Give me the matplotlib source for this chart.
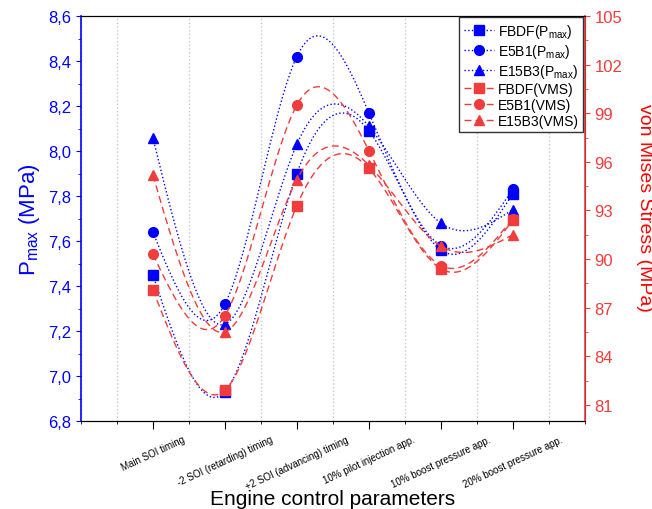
import numpy as np
import matplotlib.pyplot as plt
from matplotlib.ticker import MultipleLocator, FuncFormatter

plt.rcParams['font.family'] = ['Liberation Sans', 'DejaVu Sans']
plt.rcParams['mathtext.fontset'] = 'custom'
plt.rcParams['mathtext.rm'] = 'Liberation Sans'

categories = ["Main SOI timing", "-2 SOI (retarding) timing", "+2 SOI (advancing) timing",
              "10% pilot injection app.", "10% boost pressure app.", "20% boost pressure app."]

# Pmax (MPa)
fbdf_pmax = [7.45, 6.93, 7.90, 8.09, 7.56, 7.81]
e5b1_pmax = [7.64, 7.32, 8.42, 8.17, 7.58, 7.83]
e15b3_pmax = [8.06, 7.23, 8.03, 8.11, 7.68, 7.74]

# von Mises stress (MPa)
fbdf_vms = [88.1, 81.9, 93.3, 95.6, 89.4, 92.4]
e5b1_vms = [90.3, 86.5, 99.5, 96.7, 89.6, 92.5]
e15b3_vms = [95.2, 85.5, 94.9, 95.8, 90.8, 91.5]

BLUE = "#0000FF"
RED = "#F03C3C"


def natural_spline(x, y, n=200):
    x = np.asarray(x, float)
    y = np.asarray(y, float)
    k = len(x)
    h = np.diff(x)
    A = np.zeros((k, k))
    b = np.zeros(k)
    A[0, 0] = 1
    A[-1, -1] = 1
    for i in range(1, k - 1):
        A[i, i - 1] = h[i - 1]
        A[i, i] = 2 * (h[i - 1] + h[i])
        A[i, i + 1] = h[i]
        b[i] = 3 * ((y[i + 1] - y[i]) / h[i] - (y[i] - y[i - 1]) / h[i - 1])
    c = np.linalg.solve(A, b)
    xs = np.linspace(x[0], x[-1], n)
    ys = np.empty_like(xs)
    for j, xv in enumerate(xs):
        i = min(np.searchsorted(x, xv, side='right') - 1, k - 2)
        dx = xv - x[i]
        bb = (y[i + 1] - y[i]) / h[i] - h[i] * (2 * c[i] + c[i + 1]) / 3
        d = (c[i + 1] - c[i]) / (3 * h[i])
        ys[j] = y[i] + bb * dx + c[i] * dx ** 2 + d * dx ** 3
    return xs, ys


x = np.arange(1, len(categories) + 1)

fig = plt.figure(figsize=(6.52, 5.10), dpi=100)
ax = fig.add_axes([0.124, 0.1725, 0.773, 0.794])
ax2 = ax.twinx()

handles = []
for vals, m, lab in [(fbdf_pmax, 's', 'FBDF(P$_{\\mathrm{max}}$)'),
                     (e5b1_pmax, 'o', 'E5B1(P$_{\\mathrm{max}}$)'),
                     (e15b3_pmax, '^', 'E15B3(P$_{\\mathrm{max}}$)')]:
    xs, ys = natural_spline(x, vals)
    ax.plot(xs, ys, color=BLUE, ls=':', lw=1, zorder=3)
    ax.plot(x, vals, ls='none', marker=m, color=BLUE, ms=7, zorder=4)
    h, = ax.plot([], [], color=BLUE, ls=':', lw=1, marker=m, ms=7, label=lab)
    handles.append(h)

for vals, m, lab in [(fbdf_vms, 's', 'FBDF(VMS)'),
                     (e5b1_vms, 'o', 'E5B1(VMS)'),
                     (e15b3_vms, '^', 'E15B3(VMS)')]:
    xs, ys = natural_spline(x, vals)
    ax2.plot(xs, ys, color=RED, ls=(0, (5, 3)), lw=1, zorder=3)
    ax2.plot(x, vals, ls='none', marker=m, color=RED, ms=7, zorder=4)
    h, = ax2.plot([], [], color=RED, ls=(0, (5, 3)), lw=1, marker=m, ms=7, label=lab)
    handles.append(h)

ax.set_xlim(0, 7)
ax.set_ylim(6.8, 8.6)
ax2.set_ylim(80, 105)

ax.set_xticks(x)
ax.set_xticklabels(categories, rotation=25, ha='center', va='top', fontsize=7)
ax.xaxis.set_minor_locator(MultipleLocator(0.5))
ax.grid(which='minor', axis='x', color='#c8c8c8', ls=':', lw=1)
ax.tick_params(axis='x', which='both', direction='out')
ax.tick_params(axis='x', which='major', length=6)

ax.yaxis.set_major_locator(MultipleLocator(0.2))
ax.yaxis.set_minor_locator(MultipleLocator(0.1))
ax.yaxis.set_major_formatter(FuncFormatter(lambda v, p: f"{v:.1f}".replace('.', ',')))
ax.tick_params(axis='y', which='both', colors=BLUE, labelsize=12)
ax.spines['left'].set_color(BLUE)
ax.spines['left'].set_linewidth(1.2)

ax2.yaxis.set_minor_locator(MultipleLocator(1.5))
ax2.set_yticks(np.arange(81, 106, 3))
ax2.tick_params(axis='y', which='both', colors=RED, labelsize=12)
ax2.spines['right'].set_color(RED)
ax2.spines['right'].set_linewidth(1.2)
ax2.spines['left'].set_visible(False)

ax.set_ylabel("P$_{\\mathrm{max}}$ (MPa)", color=BLUE, fontsize=16)
ax2.set_ylabel("von Mises Stress (MPa)", color="#FF0000", fontsize=14, rotation=270)
ax2.yaxis.set_label_coords(1.135, 0.528)
ax.set_xlabel("Engine control parameters", fontsize=15, labelpad=-1)

leg = ax2.legend(handles=handles, loc='upper right', fontsize=10, frameon=True,
                 fancybox=False, edgecolor='black', handlelength=2.2,
                 borderaxespad=0.1, labelspacing=0.15, handletextpad=0.3,
                 borderpad=0.3)
leg.get_frame().set_linewidth(1)

fig.savefig("out.png", dpi=100)
